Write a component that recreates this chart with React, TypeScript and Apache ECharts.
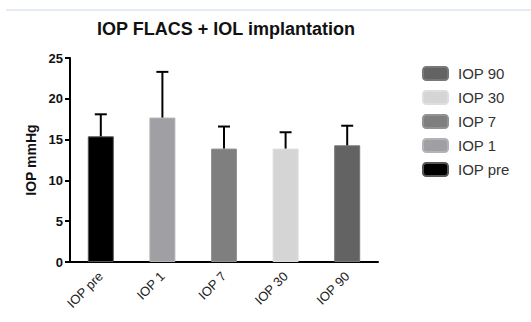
import React, { useEffect, useRef } from "react";
import * as echarts from "echarts";

const categories = ["IOP pre", "IOP 1", "IOP 7", "IOP 30", "IOP 90"];
const means = [15.4, 17.7, 13.9, 13.9, 14.3];
const sds = [2.7, 5.6, 2.7, 2.0, 2.4];
const barColors = ["#000000", "#a0a0a4", "#7f7f7f", "#d5d5d5", "#636363"];
const borderColors = ["#555555", "#b4b4b6", "#939393", "#dedede", "#787878"];
const yTicks = { min: 0, max: 25, interval: 5 };
const titleText = "IOP FLACS + IOL implantation";
const yAxisName = "IOP mmHg";

export default function App() {
  const ref = useRef<HTMLDivElement>(null);
  useEffect(() => {
    if (!ref.current) return;
    const chart = echarts.init(ref.current, undefined, { renderer: "svg" });
    const font = "Liberation Sans";
    const barSeries = categories.map((c, i) => ({
      name: c,
      type: "bar",
      stack: "all",
      barWidth: 26,
      data: categories.map((_, j) => (j === i ? means[i] : "-")),
      itemStyle: { color: barColors[i], borderColor: borderColors[i], borderWidth: 1 },
      z: 2,
    }));
    const errSeries = {
      type: "custom",
      name: "err",
      z: 5,
      data: categories.map((_, i) => [i, means[i], means[i] + sds[i]]),
      renderItem: (params: any, api: any) => {
        const x = api.value(0);
        const p0 = api.coord([x, api.value(1)]);
        const p1 = api.coord([x, api.value(2)]);
        const half = 6;
        const style = { stroke: "#000", lineWidth: 2 };
        return {
          type: "group",
          children: [
            { type: "line", shape: { x1: p0[0], y1: p0[1], x2: p1[0], y2: p1[1] }, style },
            { type: "line", shape: { x1: p1[0] - half, y1: p1[1], x2: p1[0] + half, y2: p1[1] }, style },
          ],
        };
      },
    };
    chart.setOption({
      animation: false,
      backgroundColor: "#fff",
      textStyle: { fontFamily: font },
      title: {
        text: titleText,
        left: 221,
        textAlign: "center",
        top: 15,
        textStyle: { fontFamily: font, fontSize: 18, fontWeight: "bold", color: "#111" },
      },
      graphic: [
        {
          type: "line",
          shape: { x1: 6, y1: 10, x2: 531, y2: 10 },
          style: { stroke: "#e6ecf6", lineWidth: 2 },
        },
      ],
      legend: {
        orient: "vertical",
        left: 417,
        top: 61,
        itemWidth: 25,
        itemHeight: 13,
        itemGap: 9,
        icon: "roundRect",
        data: [...categories].reverse(),
        textStyle: { fontFamily: font, fontSize: 15, color: "#333", padding: [0, 0, 0, 5] },
      },
      grid: { left: 70, right: 153, top: 58, bottom: 60 },
      xAxis: {
        type: "category",
        data: categories,
        axisLine: { lineStyle: { color: "#000", width: 2 } },
        axisTick: { alignWithLabel: true, length: 5, lineStyle: { color: "#000", width: 2 } },
        axisLabel: { rotate: 45, fontSize: 13, color: "#222", margin: 12, fontFamily: font },
      },
      yAxis: {
        type: "value",
        min: yTicks.min,
        max: yTicks.max,
        interval: yTicks.interval,
        name: yAxisName,
        nameLocation: "middle",
        nameGap: 31,
        nameTextStyle: { fontFamily: font, fontSize: 14, fontWeight: "bold", color: "#111" },
        axisLine: { show: true, lineStyle: { color: "#000", width: 2 } },
        axisTick: { show: true, length: 5, lineStyle: { color: "#000", width: 2 } },
        splitLine: { show: false },
        axisLabel: { fontSize: 13, fontWeight: "bold", color: "#111", margin: 7, fontFamily: font },
      },
      series: [...barSeries, errSeries],
    });
    return () => chart.dispose();
  }, []);
  return (
    <div
      ref={ref}
      style={{ position: "fixed", left: 0, top: 0, width: 531, height: 322, background: "#fff" }}
    />
  );
}
